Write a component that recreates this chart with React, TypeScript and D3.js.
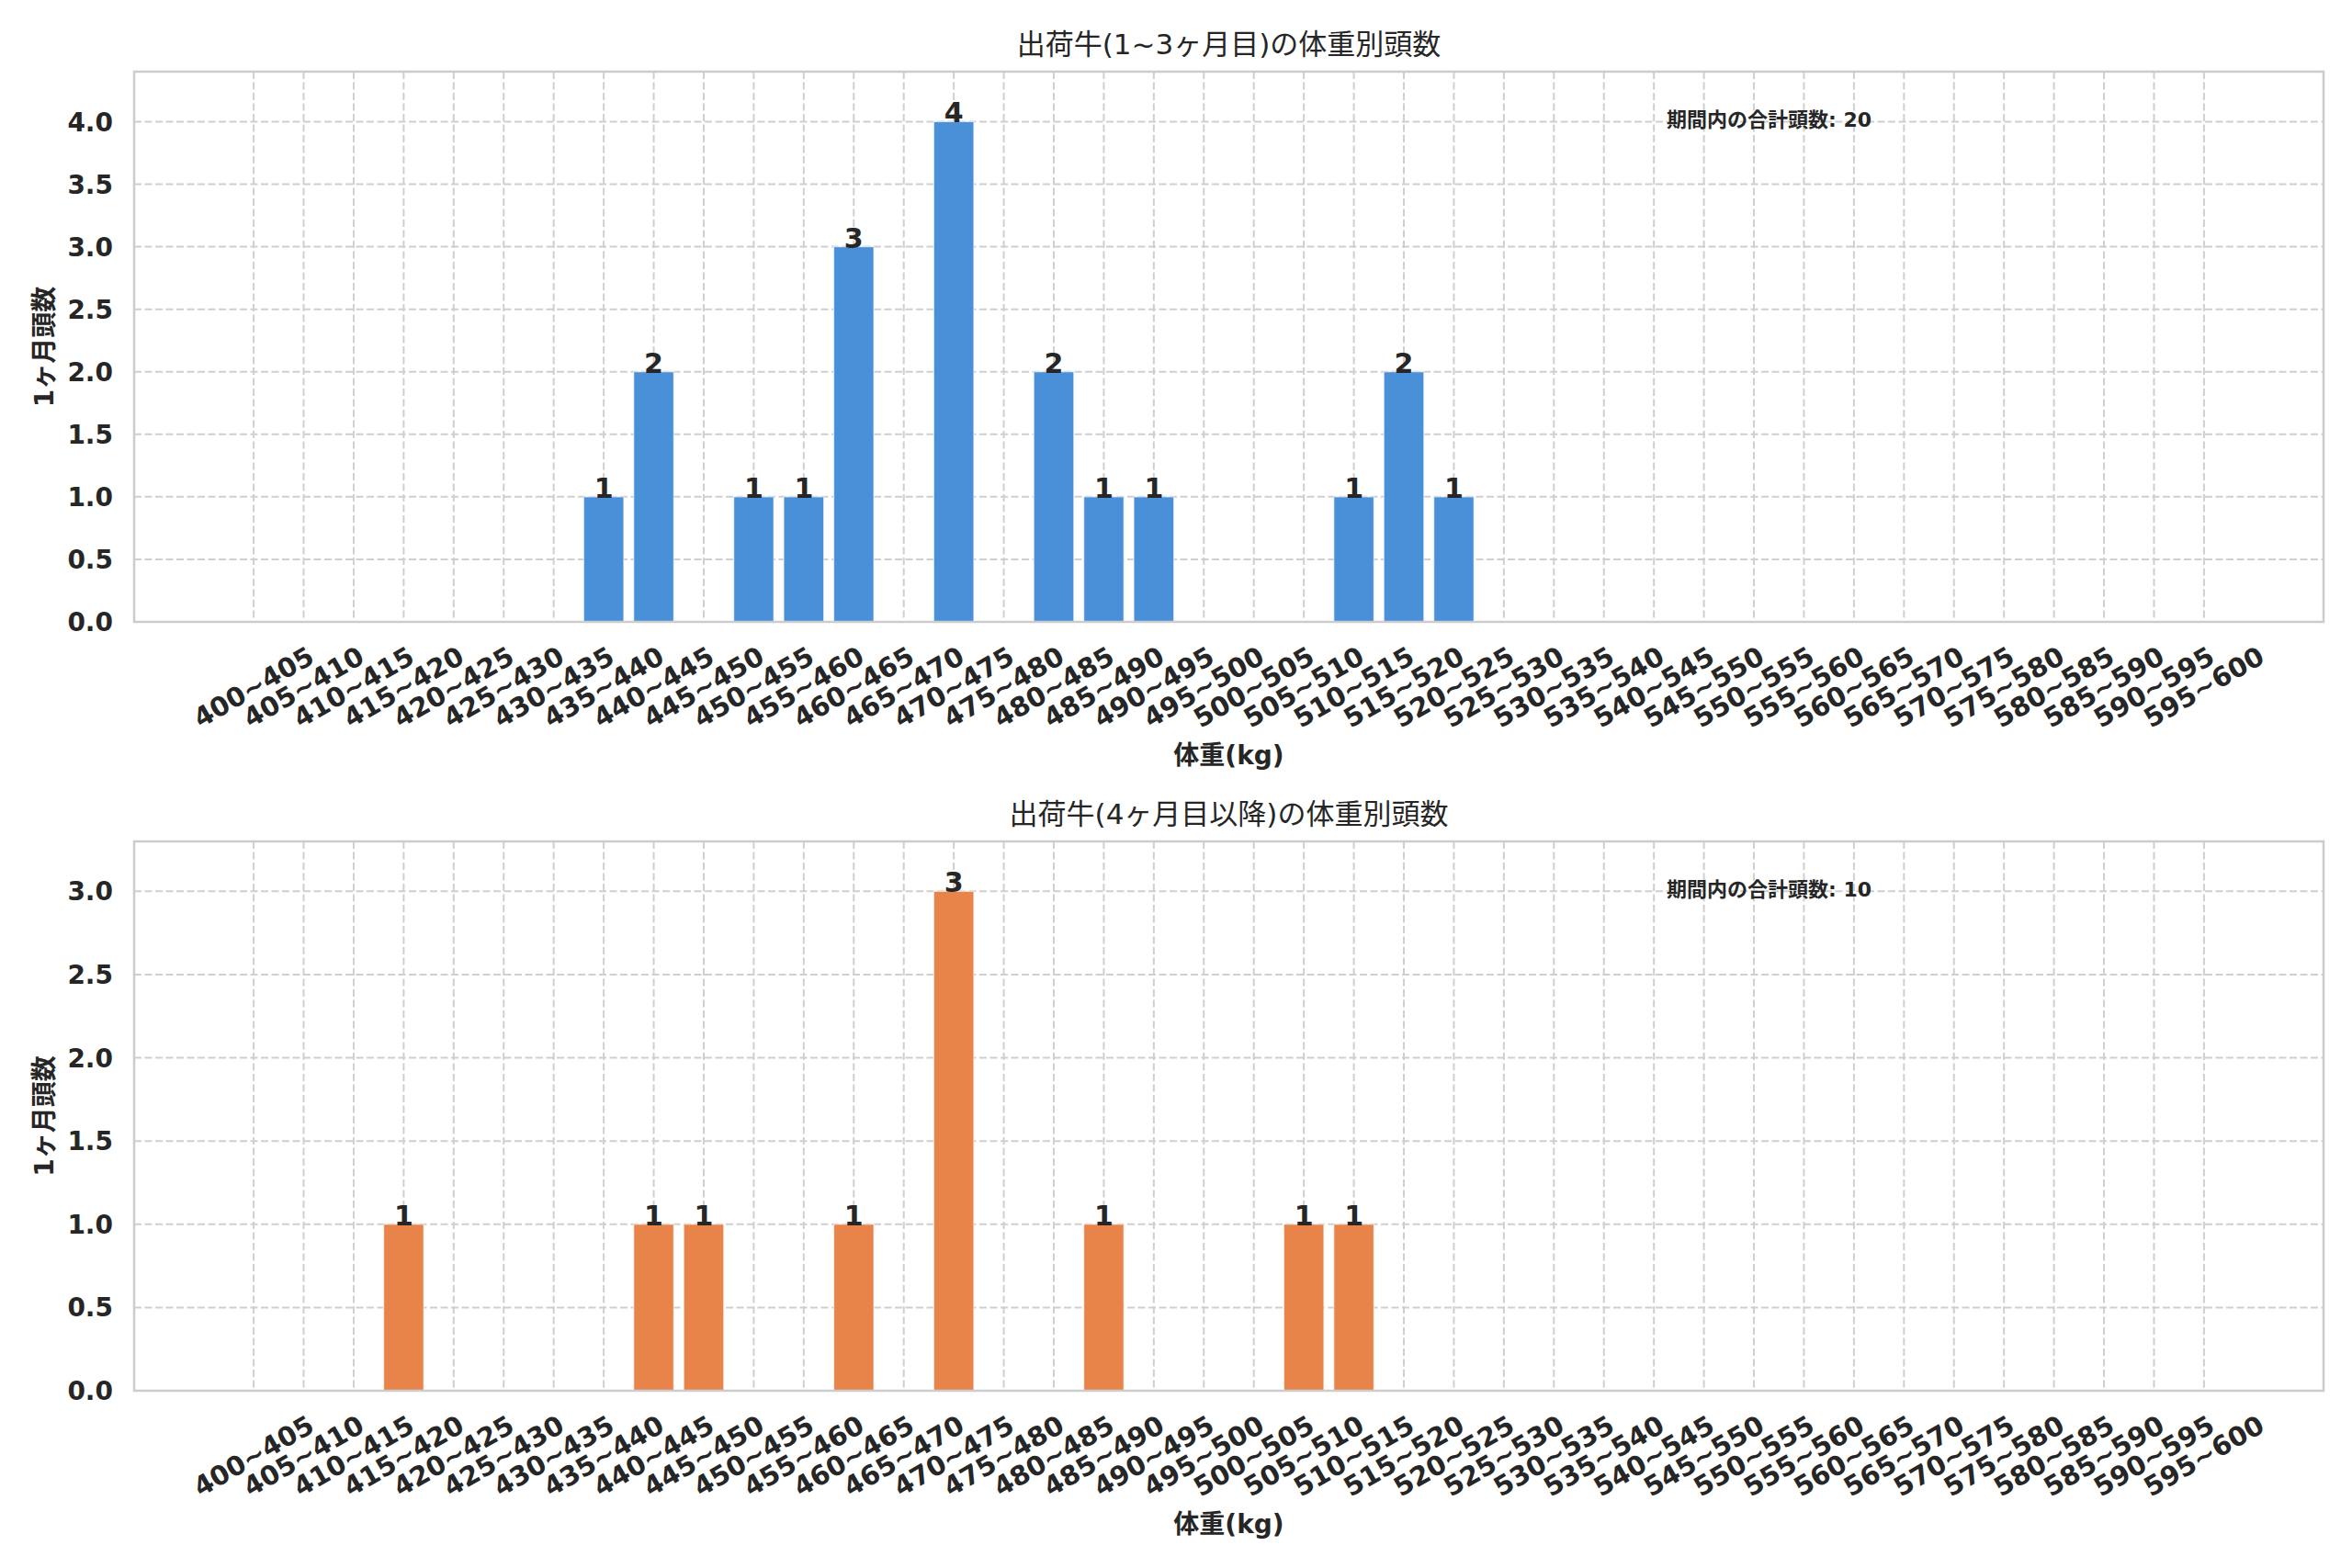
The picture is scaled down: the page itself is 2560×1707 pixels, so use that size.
import React from "react";
import * as d3 from "d3";

// weight bins (kg)
const BINS = [
  "400~405", "405~410", "410~415", "415~420", "420~425", "425~430", "430~435", "435~440",
  "440~445", "445~450", "450~455", "455~460", "460~465", "465~470", "470~475", "475~480",
  "480~485", "485~490", "490~495", "495~500", "500~505", "505~510", "510~515", "515~520",
  "520~525", "525~530", "530~535", "535~540", "540~545", "545~550", "550~555", "555~560",
  "560~565", "565~570", "570~575", "575~580", "580~585", "585~590", "590~595", "595~600",
];

// counts per bin
const YOUNG_COUNTS = [
  0, 0, 0, 0, 0, 0, 0, 1, 2, 0, 1, 1, 3, 0, 4, 0, 2, 1, 1, 0,
  0, 0, 1, 2, 1, 0, 0, 0, 0, 0, 0, 0, 0, 0, 0, 0, 0, 0, 0, 0,
];
const OLD_COUNTS = [
  0, 0, 0, 1, 0, 0, 0, 0, 1, 1, 0, 0, 1, 0, 3, 0, 0, 1, 0, 0,
  0, 1, 1, 0, 0, 0, 0, 0, 0, 0, 0, 0, 0, 0, 0, 0, 0, 0, 0, 0,
];

const YOUNG_TICKS = [0, 0.5, 1, 1.5, 2, 2.5, 3, 3.5, 4];
const OLD_TICKS = [0, 0.5, 1, 1.5, 2, 2.5, 3];

const TITLE_YOUNG = "出荷牛(1~3ヶ月目)の体重別頭数";
const TITLE_OLD = "出荷牛(4ヶ月目以降)の体重別頭数";
const Y_LABEL = "1ヶ月頭数";
const X_LABEL = "体重(kg)";
const TOTAL_LABEL = "期間内の合計頭数";

const W = 2560;
const H = 1707;
const LEFT = 146;
const RIGHT = 2529;
const FONT = "'DejaVu Sans', 'Noto Sans CJK JP', sans-serif";
const INK = "#262626";
const GRID = "#cfcfcf";

interface PanelProps {
  title: string;
  counts: number[];
  ticks: number[];
  color: string;
  top: number;
  bottom: number;
}

function Panel({ title, counts, ticks, color, top, bottom }: PanelProps) {
  const n = BINS.length;
  // matplotlib-like 5% margins around the bars
  const lo = -0.4, hi = n - 1 + 0.4;
  const pad = (hi - lo) * 0.05;
  const x = d3.scaleLinear().domain([lo - pad, hi + pad]).range([LEFT, RIGHT]);
  const maxV = d3.max(counts) as number;
  const y = d3.scaleLinear().domain([0, maxV * 1.1]).range([bottom, top]);
  const total = d3.sum(counts);
  const bw = x(0.8) - x(0);
  const labelY = bottom + 71;

  return (
    <g>
      {/* grid */}
      {ticks.map(t => (
        <line key={"h" + t} x1={LEFT} x2={RIGHT} y1={y(t)} y2={y(t)}
          stroke={GRID} strokeWidth={2} strokeDasharray="8,3.5" />
      ))}
      {BINS.map((b, i) => (
        <line key={"v" + b} x1={x(i)} x2={x(i)} y1={top} y2={bottom}
          stroke={GRID} strokeWidth={2} strokeDasharray="8,3.5" />
      ))}
      {/* bars */}
      {counts.map((v, i) => (
        <rect key={"b" + i} x={x(i) - bw / 2} width={bw} y={y(v)} height={y(0) - y(v)}
          fill={color} stroke="#ffffff" strokeWidth={1.2} strokeOpacity={0.6} />
      ))}
      {counts.map((v, i) => v > 0 ? (
        <text key={"l" + i} x={x(i)} y={y(v) + 1} textAnchor="middle"
          fontSize={30} fontWeight="bold" fill={INK}>{v}</text>
      ) : null)}
      {/* frame */}
      <rect x={LEFT} y={top} width={RIGHT - LEFT} height={bottom - top}
        fill="none" stroke="#cccccc" strokeWidth={2.5} />
      {/* y ticks */}
      {ticks.map(t => (
        <text key={"yt" + t} x={LEFT - 23} y={y(t)} dy="0.36em" textAnchor="end"
          fontSize={28} fontWeight="bold" fill={INK}>{d3.format(".1f")(t)}</text>
      ))}
      {/* x ticks */}
      {BINS.map((b, i) => (
        <text key={"xt" + b} x={x(i)} y={labelY} textAnchor="middle" dominantBaseline="central"
          transform={`rotate(-30 ${x(i)} ${labelY})`}
          fontSize={29} fontWeight="bold" fill={INK}>{b}</text>
      ))}
      <text x={(LEFT + RIGHT) / 2} y={bottom + 145} dy="0.36em" textAnchor="middle"
        fontSize={28} fontWeight="bold" fill={INK}>{X_LABEL}</text>
      <text transform={`translate(48,${(top + bottom) / 2}) rotate(-90)`} dy="0.36em"
        textAnchor="middle" fontSize={28} fontWeight="bold" fill={INK}>{Y_LABEL}</text>
      <text x={(LEFT + RIGHT) / 2} y={top - 30} dy="0.36em" textAnchor="middle"
        fontSize={31} fill={INK}>{title}</text>
      <text x={LEFT + 0.7 * (RIGHT - LEFT)} y={top + 52} dy="0.36em"
        fontSize={22} fontWeight="bold" fill={INK}>{`${TOTAL_LABEL}: ${total}`}</text>
    </g>
  );
}

export default function App() {
  return (
    <svg width={W} height={H} style={{ position: "absolute", left: 0, top: 0, background: "#fff" }}
      fontFamily={FONT}>
      <rect width={W} height={H} fill="#ffffff" />
      <Panel title={TITLE_YOUNG} counts={YOUNG_COUNTS} ticks={YOUNG_TICKS} color="#4a90d9" top={78} bottom={677} />
      <Panel title={TITLE_OLD} counts={OLD_COUNTS} ticks={OLD_TICKS} color="#e8834a" top={916} bottom={1514} />
    </svg>
  );
}
